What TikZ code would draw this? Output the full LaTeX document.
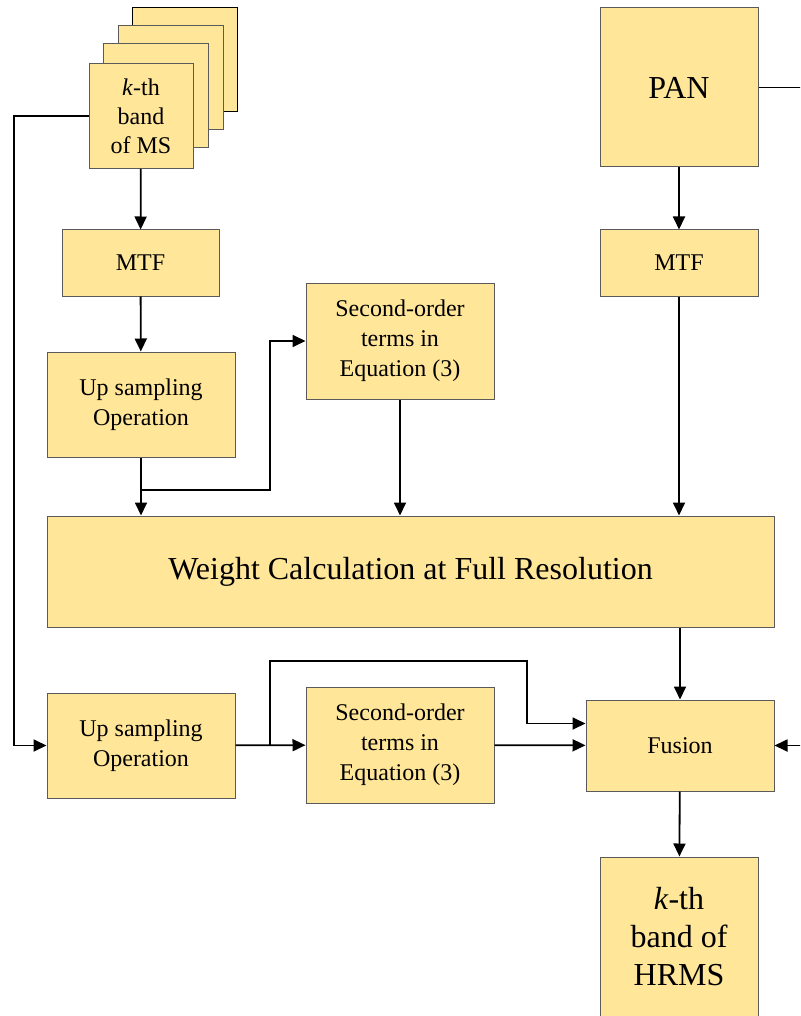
\documentclass[tikz,border=0pt]{standalone}
\usepackage{fontspec}
\setmainfont{Liberation Serif}
\newfontfamily\tnr{Liberation Serif}
\usetikzlibrary{arrows.meta, positioning}
\definecolor{boxfill}{HTML}{FFE699}
\definecolor{boxline}{HTML}{5A5A5A}
\tikzset{
  blk/.style = {draw = boxline, fill = boxfill, line width = 1pt, align = center,
                inner sep = 0pt, font = \tnr\fontsize{24}{30}\selectfont},
  bigblk/.style = {blk, font = \tnr\fontsize{32}{38}\selectfont},
  flow/.style = {line width = 1.8pt, -{Triangle[length=13pt, width=12pt]}},
  wire/.style = {line width = 1.8pt}
}
\begin{document}
\begin{tikzpicture} [x = 1pt, y = -1pt]
\clip (0,0) rectangle (800,1016);
\fill [white] (0,0) rectangle (800,1016);
% stack of MS bands
\node (ms4) [blk, draw = black, minimum width = 105pt, minimum height = 104pt] at (184.5,60) {};
\node (ms3) [blk, minimum width = 105pt, minimum height = 104pt] at (170.5,78) {};
\node (ms2) [blk, minimum width = 105pt, minimum height = 104pt] at (155.5,96) {};
\node (ms) [blk, minimum width = 104pt, minimum height = 105pt,
  font = \tnr\fontsize{24}{29}\selectfont] at (141,116) {\textit{k}-th\\band\\of MS};
\node (mtfa) [blk, minimum width = 157pt, minimum height = 66pt] at (140.5,263) {MTF};
\node (upa) [blk, minimum width = 188pt, minimum height = 105pt] at (141,404.5) {Up sampling\\Operation};
\node (soa) [blk, minimum width = 188pt, minimum height = 116pt] at (400,341) {Second-order\\terms in\\Equation (3)};
% PAN branch
\node (pan) [bigblk, minimum width = 158pt, minimum height = 159pt] at (679,87.5) {PAN};
\node (mtfb) [blk, minimum width = 158pt, minimum height = 66pt] at (679,263) {MTF};
\node (weight) [bigblk, minimum width = 727pt, minimum height = 111pt] at (410.5,571.5) {Weight Calculation at Full Resolution};
% lower row
\node (upb) [blk, minimum width = 188pt, minimum height = 105pt] at (141,745.5) {Up sampling\\Operation};
\node (sob) [blk, minimum width = 188pt, minimum height = 116pt] at (400,745) {Second-order\\terms in\\Equation (3)};
\node (fusion) [blk, minimum width = 188pt, minimum height = 91pt] at (680,745.5) {Fusion};
\node (hrms) [bigblk, minimum width = 158pt, minimum height = 160pt] at (679,937) {\textit{k}-th\\band of\\HRMS};
\coordinate (lft) at (14,430);
\coordinate (j1) at (141,490);
\coordinate (j2) at (270,490);
\coordinate (j3) at (270,745.5);
\coordinate (j4) at (527,661);
\coordinate (panout) at (805,87.5);
\coordinate (fusin) at (805,745.5);
\draw [flow] (ms) -- (mtfa);
\draw [flow] (mtfa) -- (upa);
\draw [flow] (upa.south) -- (upa.south |- weight.north);
\draw [flow] (j1) -- (j2) |- (soa.west);
\draw [flow] (soa.south) -- (soa.south |- weight.north);
\draw [flow] (pan) -- (mtfb);
\draw [flow] (mtfb.south) -- (mtfb.south |- weight.north);
\draw [wire] (pan.east) -- (panout);
\draw [flow] (fusion.north |- weight.south) -- (fusion.north);
\draw [flow] (ms.west) -| (lft) |- (upb.west);
\draw [flow] (upb) -- (sob);
\draw [flow] (j3) |- (j4) |- ([yshift=22pt]fusion.west);
\draw [flow] (sob) -- (fusion);
\draw [flow] (fusin) -- (fusion.east);
\draw [flow] (fusion) -- (hrms);
\end{tikzpicture}
\end{document}
